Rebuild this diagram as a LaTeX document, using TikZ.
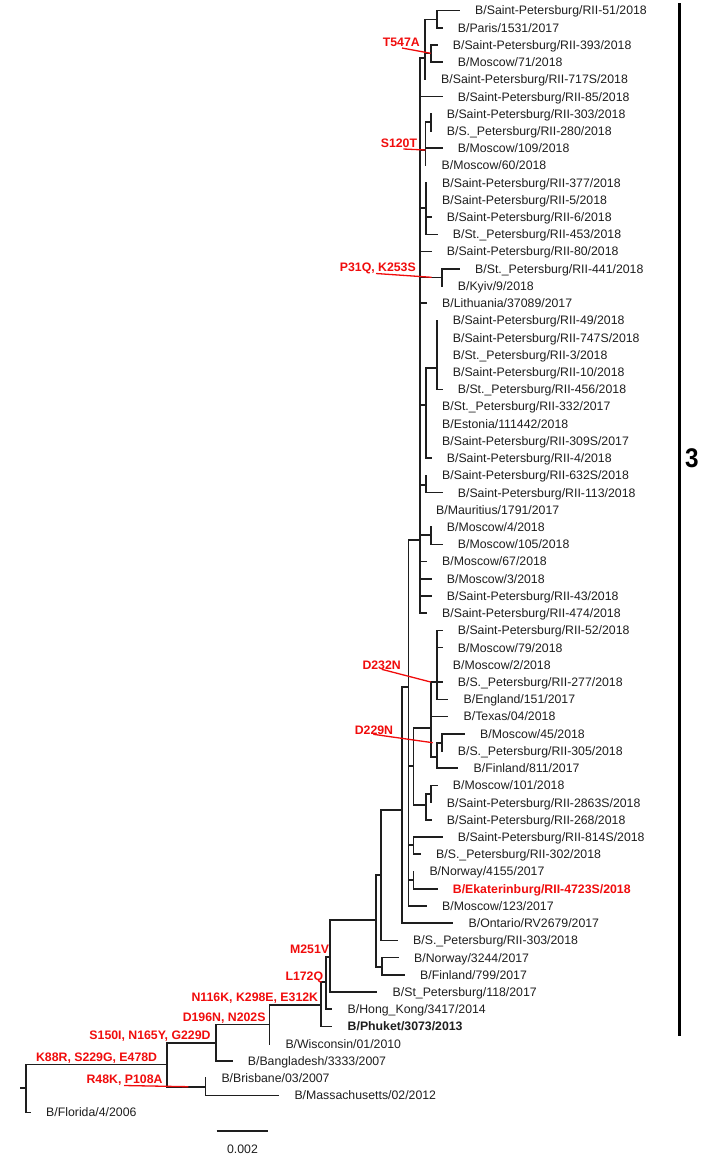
\documentclass[tikz,border=0pt]{standalone}
\usepackage{fontspec}
\setmainfont{Liberation Sans}
\definecolor{mred}{RGB}{240,12,12}
\definecolor{ink}{RGB}{30,30,30}
\tikzset{
  br/.style={line width=1.6bp, draw=ink, line cap=rect},
  leaflab/.style={anchor=base west, inner sep=0pt, text=ink, font=\fontsize{12.3bp}{14bp}\selectfont},
  mut/.style={anchor=base east, inner sep=0pt, text=mred, font=\fontsize{12.3bp}{14bp}\selectfont\bfseries},
  ptr/.style={draw=mred, line width=1.3bp},
}
\newcommand\lf[4][]{%
  \coordinate (t#2) at (#3,{10.5+(#2-1)*17.22});
  \node[leaflab,#1] (L#2) at ({#3+16},{10.5+(#2-1)*17.22+4.4}) {#4};
}
\newcommand\kids[4]{%
  \draw[br] (#1 |- #2) -- (#1 |- #3);
  \foreach \c in {#4}{\draw[br] (#1 |- \c) -- (\c);}
}
\begin{document}
\begin{tikzpicture}[x=1bp,y=-1bp]
\useasboundingbox (0,0) rectangle (705,1171);
% leaves
\lf{1}{459}{B/Saint-Petersburg/RII-51/2018}
\lf{2}{441.7}{B/Paris/1531/2017}
\lf{3}{436.7}{B/Saint-Petersburg/RII-393/2018}
\lf{4}{441.7}{B/Moscow/71/2018}
\lf{5}{425}{B/Saint-Petersburg/RII-717S/2018}
\lf{6}{441.7}{B/Saint-Petersburg/RII-85/2018}
\lf{7}{430.7}{B/Saint-Petersburg/RII-303/2018}
\lf{8}{430.7}{B/S.\_Petersburg/RII-280/2018}
\lf{9}{441.7}{B/Moscow/109/2018}
\lf{10}{425.5}{B/Moscow/60/2018}
\lf{11}{426}{B/Saint-Petersburg/RII-377/2018}
\lf{12}{426}{B/Saint-Petersburg/RII-5/2018}
\lf{13}{430.7}{B/Saint-Petersburg/RII-6/2018}
\lf{14}{436.7}{B/St.\_Petersburg/RII-453/2018}
\lf{15}{430.7}{B/Saint-Petersburg/RII-80/2018}
\lf{16}{459}{B/St.\_Petersburg/RII-441/2018}
\lf{17}{441.7}{B/Kyiv/9/2018}
\lf{18}{426}{B/Lithuania/37089/2017}
\lf{19}{436.7}{B/Saint-Petersburg/RII-49/2018}
\lf{20}{436.7}{B/Saint-Petersburg/RII-747S/2018}
\lf{21}{436.7}{B/St.\_Petersburg/RII-3/2018}
\lf{22}{436.7}{B/Saint-Petersburg/RII-10/2018}
\lf{23}{441.7}{B/St.\_Petersburg/RII-456/2018}
\lf{24}{426}{B/St.\_Petersburg/RII-332/2017}
\lf{25}{426}{B/Estonia/111442/2018}
\lf{26}{426}{B/Saint-Petersburg/RII-309S/2017}
\lf{27}{430.7}{B/Saint-Petersburg/RII-4/2018}
\lf{28}{426}{B/Saint-Petersburg/RII-632S/2018}
\lf{29}{441.7}{B/Saint-Petersburg/RII-113/2018}
\lf{30}{420}{B/Mauritius/1791/2017}
\lf{31}{430.7}{B/Moscow/4/2018}
\lf{32}{441.7}{B/Moscow/105/2018}
\lf{33}{426}{B/Moscow/67/2018}
\lf{34}{430.7}{B/Moscow/3/2018}
\lf{35}{430.7}{B/Saint-Petersburg/RII-43/2018}
\lf{36}{426}{B/Saint-Petersburg/RII-474/2018}
\lf{37}{441.7}{B/Saint-Petersburg/RII-52/2018}
\lf{38}{441.7}{B/Moscow/79/2018}
\lf{39}{436.7}{B/Moscow/2/2018}
\lf{40}{441.7}{B/S.\_Petersburg/RII-277/2018}
\lf{41}{447.5}{B/England/151/2017}
\lf{42}{447.5}{B/Texas/04/2018}
\lf{43}{464}{B/Moscow/45/2018}
\lf{44}{441.7}{B/S.\_Petersburg/RII-305/2018}
\lf{45}{457.5}{B/Finland/811/2017}
\lf{46}{436.7}{B/Moscow/101/2018}
\lf{47}{430.7}{B/Saint-Petersburg/RII-2863S/2018}
\lf{48}{430.7}{B/Saint-Petersburg/RII-268/2018}
\lf{49}{441.7}{B/Saint-Petersburg/RII-814S/2018}
\lf{50}{420}{B/S.\_Petersburg/RII-302/2018}
\lf{51}{413.3}{B/Norway/4155/2017}
\lf[text=mred,font=\fontsize{12.3bp}{14bp}\selectfont\bfseries]{52}{436.7}{B/Ekaterinburg/RII-4723S/2018}
\lf{53}{426}{B/Moscow/123/2017}
\lf{54}{452.5}{B/Ontario/RV2679/2017}
\lf{55}{397}{B/S.\_Petersburg/RII-303/2018}
\lf{56}{398}{B/Norway/3244/2017}
\lf{57}{404}{B/Finland/799/2017}
\lf{58}{376.5}{B/St\_Petersburg/118/2017}
\lf{59}{331.5}{B/Hong\_Kong/3417/2014}
\lf[font=\fontsize{12.3bp}{14bp}\selectfont\bfseries]{60}{331.5}{B/Phuket/3073/2013}
\lf{61}{269.3}{B/Wisconsin/01/2010}
\lf{62}{231.7}{B/Bangladesh/3333/2007}
\lf{63}{205.3}{B/Brisbane/03/2007}
\lf{64}{278.3}{B/Massachusetts/02/2012}
\lf{65}{30}{B/Florida/4/2006}
% internal nodes
\coordinate (nA12) at (436.7,19.3);
\coordinate (nA34) at (430.7,53.3);
\coordinate (nA15) at (425,58);
\coordinate (nB78) at (430.7,122);
\coordinate (nB) at (425.5,150);
\coordinate (nC) at (426,208);
\coordinate (nD) at (441.7,277.3);
\coordinate (nE1) at (436.7,368);
\coordinate (nE) at (426,405);
\coordinate (nF) at (426,485);
\coordinate (nG) at (430.7,535);
\coordinate (nTop) at (420,540);
\coordinate (nI1) at (436.7,682);
\coordinate (nI2) at (441.7,743);
\coordinate (nI3) at (436.7,756.7);
\coordinate (nI) at (430.7,727.7);
\coordinate (nK1) at (430.7,794);
\coordinate (nK) at (426,805);
\coordinate (nJ) at (413.3,766);
\coordinate (nL) at (413.3,845);
\coordinate (nM) at (413.3,880);
\coordinate (nH) at (408.3,686.7);
\coordinate (nN) at (401.7,810);
\coordinate (nO) at (381,875);
\coordinate (nQ) at (381.7,966.7);
\coordinate (nP) at (376,920);
\coordinate (nR) at (330,956.7);
\coordinate (nS) at (326,982);
\coordinate (nT) at (320.7,1005);
\coordinate (nU) at (269.3,1024.3);
\coordinate (nV) at (216,1042.7);
\coordinate (nX) at (205.3,1086.7);
\coordinate (nW) at (166.7,1064.3);
\coordinate (nRoot) at (25.7,1088);
\coordinate (stub) at (20.7,1088);
% branches
\kids{nA12}{t1}{t2}{t1,t2}
\kids{nA34}{t3}{t4}{t3,t4}
\kids{nA15}{nA12}{t5}{nA12,nA34,t5}
\kids{nB78}{t7}{t8}{t7,t8}
\kids{nB}{nB78}{t10}{nB78,t9,t10}
\kids{nC}{t11}{t14}{t11,t12,t13,t14}
\kids{nD}{t16}{t17}{t16,t17}
\kids{nE1}{t19}{t23}{t19,t20,t21,t22,t23}
\kids{nE}{nE1}{t27}{nE1,t24,t25,t26,t27}
\kids{nF}{t28}{t29}{t28,t29}
\kids{nG}{t31}{t32}{t31,t32}
\kids{nTop}{nA15}{t36}{nA15,t6,nB,nC,t15,nD,t18,nE,nF,t30,nG,t33,t34,t35,t36}
\kids{nI1}{t37}{t41}{t37,t38,t39,t40,t41}
\kids{nI2}{t43}{t44}{t43,t44}
\kids{nI3}{nI2}{t45}{nI2,t45}
\kids{nI}{nI1}{nI3}{nI1,t42,nI3}
\kids{nK1}{t46}{t47}{t46,t47}
\kids{nK}{nK1}{t48}{nK1,t48}
\kids{nJ}{nI}{nK}{nI,nK}
\kids{nL}{t49}{t50}{t49,t50}
\kids{nM}{t51}{t52}{t51,t52}
\kids{nH}{nTop}{t53}{nTop,nJ,nL,nM,t53}
\kids{nN}{nH}{t54}{nH,t54}
\kids{nO}{nN}{t55}{nN,t55}
\kids{nQ}{t56}{t57}{t56,t57}
\kids{nP}{nO}{nQ}{nO,nQ}
\kids{nR}{nP}{t58}{nP,t58}
\kids{nS}{nR}{t59}{nR,t59}
\kids{nT}{nS}{t60}{nS,t60}
\kids{nU}{nT}{t61}{nT,t61}
\kids{nV}{nU}{t62}{nU,t62}
\kids{nX}{t63}{t64}{t63,t64}
\kids{nW}{nV}{nX}{nV,nX}
\kids{nRoot}{nW}{t65}{nW,t65}
\draw[br] (stub) -- (nRoot);
% mutation labels
\node[mut] (mT547A) at (420,46.7) {T547A};
\node[mut] (mS120T) at (417.3,147.7) {S120T};
\node[mut] (mP31Q) at (416,271.7) {P31Q, K253S};
\node[mut] (mD232N) at (401,669.4) {D232N};
\node[mut] (mD229N) at (393.3,734.4) {D229N};
\node[mut] (mM251V) at (329.3,953.7) {M251V};
\node[mut] (mL172Q) at (323.3,980.4) {L172Q};
\node[mut] (mN116K) at (318.3,1001.7) {N116K, K298E, E312K};
\node[mut] (mD196N) at (265.7,1021.1) {D196N, N202S};
\node[mut] (mS150I) at (210.7,1039.4) {S150I, N165Y, G229D};
\node[mut] (mK88R) at (157.3,1061.1) {K88R, S229G, E478D};
\node[mut] (mR48K) at (162.7,1083.7) {R48K, P108A};
% pointers
\coordinate (pT) at (402,48);
\coordinate (pS) at (403.3,149);
\coordinate (pP) at (376,273.5);
\coordinate (eP) at (431.7,277.3);
\coordinate (pD2) at (381.7,669.3);
\coordinate (pD9) at (373.3,734.3);
\coordinate (eD9) at (432.7,742.7);
\coordinate (pR) at (124,1085.5);
\coordinate (eR) at (188.3,1086.7);
\draw[ptr] (pT) -- (nA34);
\draw[ptr] (pS) -- (nB);
\draw[ptr] (pP) -- (eP);
\draw[ptr] (pD2) -- (nI |- nI1);
\draw[ptr] (pD9) -- (eD9);
\draw[ptr] (pR) -- (eR);
% scale bar
\coordinate (sb1) at (216.7,1130.7);
\coordinate (sb2) at (268.3,1130.7);
\draw[br,line cap=butt] (sb1) -- (sb2);
\node[anchor=base, inner sep=0pt, text=ink, font=\fontsize{12.3bp}{14bp}\selectfont] (sbl) at (242.5,1153.7) {0.002};
% clade bar
\coordinate (cb1) at (679.3,3);
\coordinate (cb2) at (679.3,1036);
\draw[line width=3.2bp, draw=black] (cb1) -- (cb2);
\node[anchor=west, inner sep=0pt, font=\fontsize{27bp}{30bp}\selectfont\bfseries, xscale=0.9] (c3) at (685,458.3) {3};
\end{tikzpicture}
\end{document}
